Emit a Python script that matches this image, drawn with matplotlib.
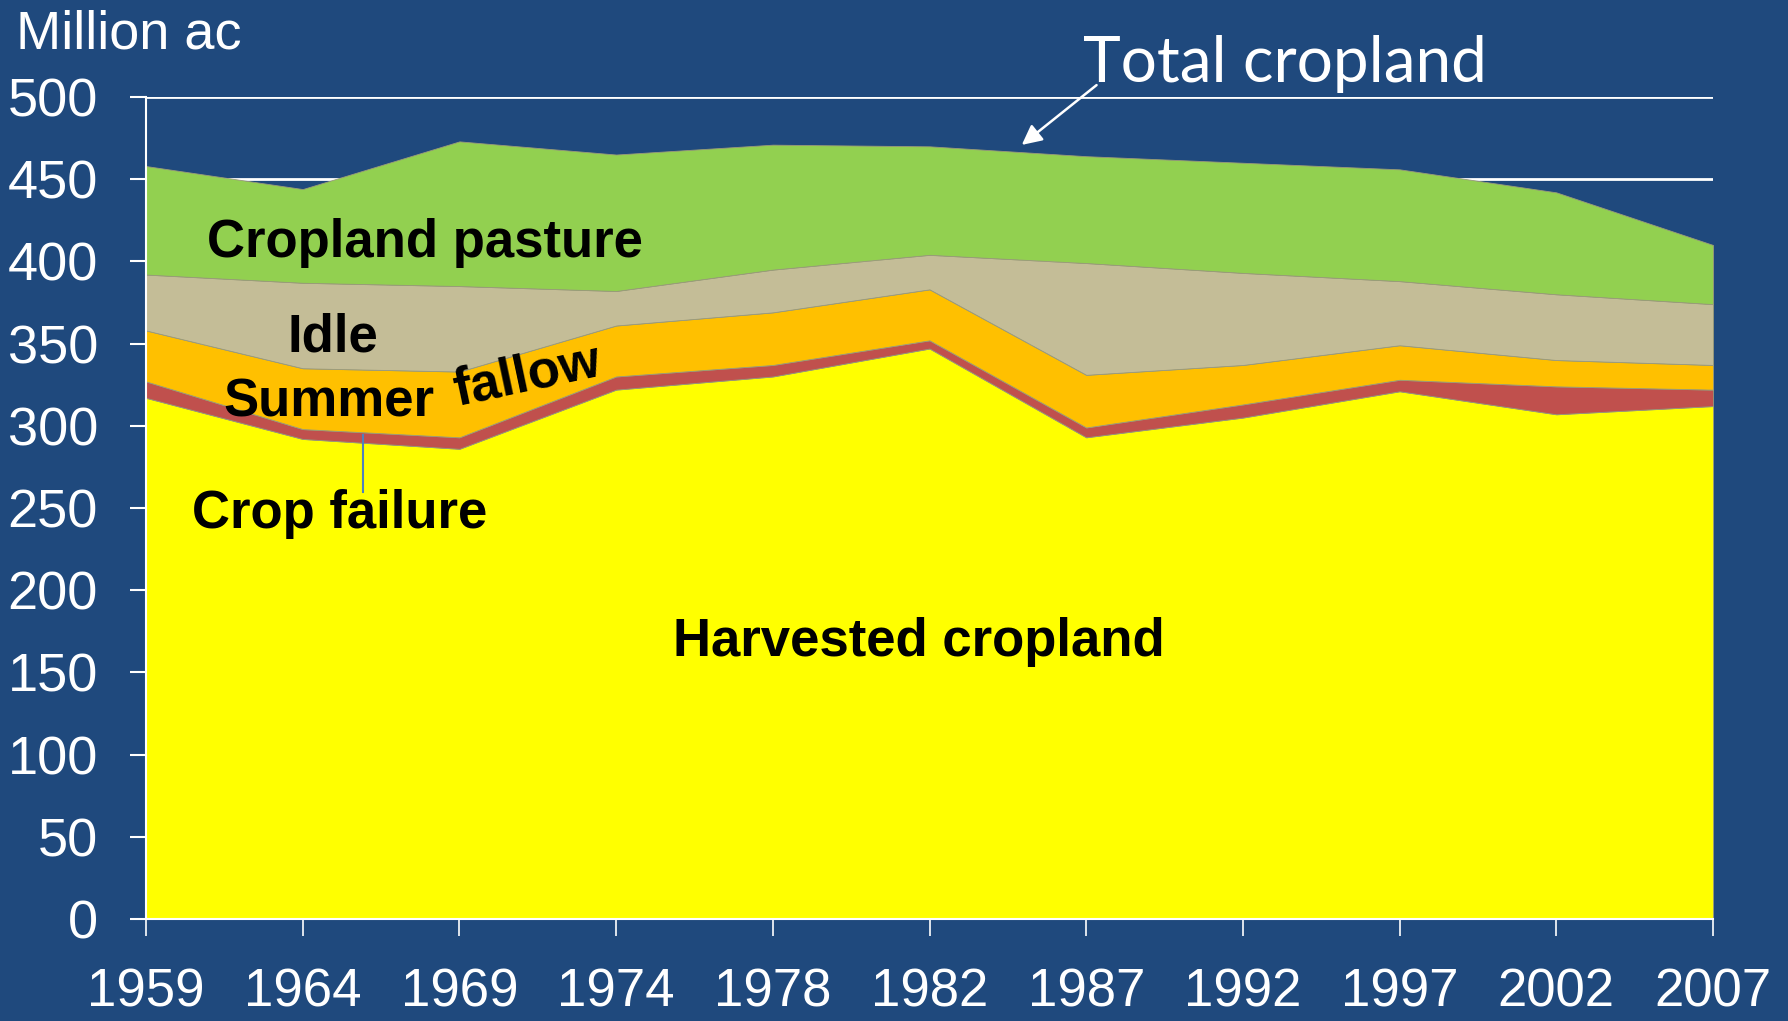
# stacked area chart of US cropland use, 1959-2007
import numpy as np
import matplotlib.pyplot as plt

# categories (census years) and values in million acres
years = ['1959', '1964', '1969', '1974', '1978', '1982', '1987', '1992', '1997', '2002', '2007']
harvested = [317, 292, 286, 322, 330, 347, 293, 305, 321, 307, 312]
failure = [10, 6, 7, 8, 7, 5, 6, 8, 7, 17, 10]
fallow = [31, 37, 40, 31, 32, 31, 32, 24, 21, 16, 15]
idle = [34, 52, 52, 21, 26, 21, 68, 56, 39, 40, 37]
pasture = [66, 57, 88, 83, 76, 66, 65, 67, 68, 62, 36]

bg = '#1F497D'
colors = ['#FFFF00', '#C0504D', '#FFC000', '#C4BD97', '#92D050']

plt.rcParams['font.family'] = ['Liberation Sans', 'DejaVu Sans']

fig = plt.figure(figsize=(17.88, 10.21), dpi=100, facecolor=bg)
ax = fig.add_axes([146 / 1788, 1 - 919 / 1021, (1713 - 146) / 1788, (919 - 97) / 1021])
ax.set_facecolor(bg)

x = np.arange(len(years))
ax.stackplot(x, harvested, failure, fallow, idle, pasture, colors=colors,
             linewidth=0.6, edgecolor='#9a9a7a', zorder=2)

# axes styling
ax.set_xlim(0, len(years) - 1)
ax.set_ylim(0, 500)
ax.set_yticks(range(0, 501, 50))
ax.set_xticks(x)
ax.set_xticklabels(years)
ax.grid(axis='y', color='white', linewidth=2, zorder=1)
ax.set_axisbelow(True)
for s in ['top', 'right']:
    ax.spines[s].set_visible(False)
for s in ['left', 'bottom']:
    ax.spines[s].set_color('white')
    ax.spines[s].set_linewidth(1.5)
    ax.spines[s].set_zorder(3)
ax.tick_params(axis='y', colors='white', labelsize=39, length=11.5, width=1.5, pad=23)
ax.tick_params(axis='x', colors='white', labelsize=38, length=12, width=1.2, pad=23)

# series labels inside the areas
lab = dict(fontsize=38, fontweight='bold', color='black', va='baseline', ha='left', zorder=4)
ax.text(0.389, 402.7, 'Cropland pasture', **lab)
ax.text(0.903, 345, 'Idle', **lab)
ax.text(0.493, 305.5, 'Summer', **lab)
ax.text(2.43, 330, 'fallow', fontsize=38, fontweight='bold', color='black',
        ha='center', va='center', rotation=12, rotation_mode='anchor', zorder=4)
ax.text(0.292, 237.6, 'Crop failure', **lab)
ax.text(3.364, 160, 'Harvested cropland', **lab)

# leader line for crop failure
ax.plot([1.383, 1.383], [294.4, 259.9], color='#4F81BD', linewidth=1.5, zorder=4)

# total cropland callout
ax.annotate('', xy=(5.575, 469.8), xytext=(6.08, 508.3),
            arrowprops=dict(arrowstyle='-|>', color='white', lw=1.8, mutation_scale=30),
            annotation_clip=False, zorder=5)
ax.text(5.98, 509.3, 'Total cropland', fontsize=46, color='white', family=['Lato', 'DejaVu Sans'],
        ha='left', va='baseline', clip_on=False)

fig.text(15.6 / 1788, 1 - 48.3 / 1021, 'Million ac', fontsize=39, color='white',
         ha='left', va='baseline')

fig.savefig('out.png', dpi=100, facecolor=bg)
